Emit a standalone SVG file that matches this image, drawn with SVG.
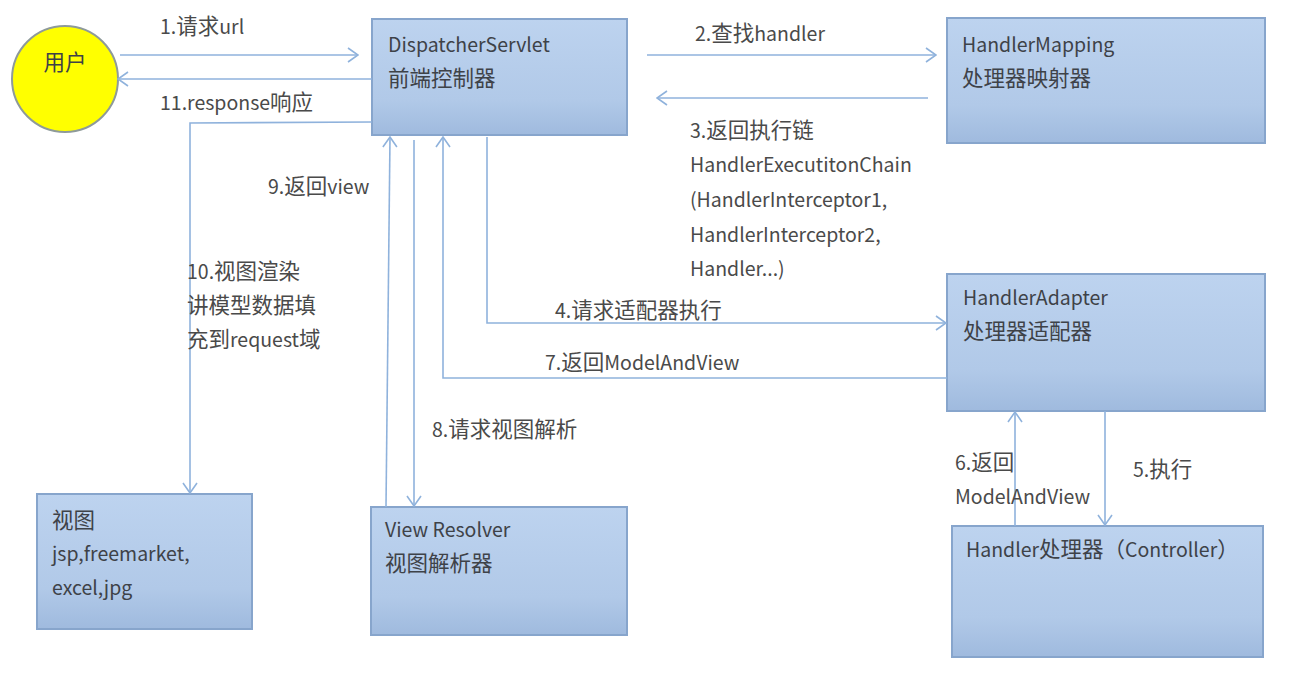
<svg xmlns="http://www.w3.org/2000/svg" width="1295" height="686" viewBox="0 0 1295 686">
<defs>
<linearGradient id="boxg" x1="0" y1="0" x2="0" y2="1">
<stop offset="0" stop-color="#bdd3ef"/>
<stop offset="0.7" stop-color="#b1c9e8"/>
<stop offset="1" stop-color="#9fbade"/>
</linearGradient>
<marker id="arr" viewBox="0 0 12 16" refX="11" refY="8" markerWidth="12" markerHeight="16" markerUnits="userSpaceOnUse" orient="auto">
<path d="M1,1 L11,8 L1,15" fill="none" stroke="#8fb2dc" stroke-width="1.6"/>
</marker>
<style>
.box{fill:url(#boxg);stroke:#87a5cc;stroke-width:2}
.t{font-family:"Noto Sans CJK SC","Noto Sans",sans-serif;font-size:19.5px;fill:#3e4248}
.l{font-family:"Noto Sans CJK SC","Noto Sans",sans-serif;font-size:19.5px;fill:#4a4a4a}
.k{font-size:21.5px}
.c{fill:none;stroke:#8fb2dc;stroke-width:1.6}
.a{marker-end:url(#arr)}
</style>
</defs>
<rect width="1295" height="686" fill="#ffffff"/>

<g id="user">
<circle cx="65" cy="79" r="53" fill="#ffff00" stroke="#8e9a9a" stroke-width="2"/>
<text class="t" x="65" y="70" text-anchor="middle"><tspan class="k">用户</tspan></text>
</g>

<g id="dispatcher">
<rect class="box" x="372" y="19" width="255" height="116"/>
<text class="t" x="388" y="52">DispatcherServlet</text>
<text class="t" x="388" y="86"><tspan class="k">前端控制器</tspan></text>
</g>

<g id="handlerMapping">
<rect class="box" x="947" y="18" width="318" height="125"/>
<text class="t" x="962" y="52">HandlerMapping</text>
<text class="t" x="962" y="86"><tspan class="k">处理器映射器</tspan></text>
</g>

<g id="handlerAdapter">
<rect class="box" x="947" y="274" width="318" height="137"/>
<text class="t" x="963" y="305">HandlerAdapter</text>
<text class="t" x="963" y="339"><tspan class="k">处理器适配器</tspan></text>
</g>

<g id="handler">
<rect class="box" x="952" y="526" width="311" height="131"/>
<text class="t" x="966" y="557">Handler<tspan class="k">处理器（</tspan>Controller<tspan class="k">）</tspan></text>
</g>

<g id="viewResolver">
<rect class="box" x="371" y="507" width="256" height="128"/>
<text class="t" x="385" y="537">View Resolver</text>
<text class="t" x="385" y="571"><tspan class="k">视图解析器</tspan></text>
</g>

<g id="view">
<rect class="box" x="37" y="494" width="215" height="135"/>
<text class="t" x="52" y="528"><tspan class="k">视图</tspan></text>
<text class="t" x="52" y="561">jsp,freemarket,</text>
<text class="t" x="52" y="595">excel,jpg</text>
</g>

<g id="connectors">
<line class="c a" x1="120" y1="55" x2="358" y2="55"/>
<line class="c a" x1="372" y1="79" x2="118" y2="79"/>
<polyline class="c a" points="372,122 190,123 190,493"/>
<line class="c a" x1="647" y1="55" x2="936" y2="55"/>
<line class="c a" x1="928" y1="98" x2="657" y2="98"/>
<polyline class="c a" points="487,137 487,323 946,323"/>
<polyline class="c a" points="947,378 443,378 443,137"/>
<line class="c a" x1="414" y1="140" x2="414" y2="506"/>
<line class="c a" x1="386" y1="507" x2="390" y2="137"/>
<line class="c a" x1="1105" y1="411" x2="1105" y2="525"/>
<line class="c a" x1="1015" y1="526" x2="1015" y2="412"/>
</g>

<g id="labels">
<text class="l" x="160" y="34">1.<tspan class="k">请求</tspan>url</text>
<text class="l" x="160" y="110">11.response<tspan class="k">响应</tspan></text>
<text class="l" x="695" y="41">2.<tspan class="k">查找</tspan>handler</text>
<text class="l" x="690" y="138">3.<tspan class="k">返回执行链</tspan></text>
<text class="l" x="690" y="172">HandlerExecutitonChain</text>
<text class="l" x="690" y="207">(HandlerInterceptor1,</text>
<text class="l" x="690" y="242">HandlerInterceptor2,</text>
<text class="l" x="690" y="276">Handler...)</text>
<text class="l" x="555" y="318">4.<tspan class="k">请求适配器执行</tspan></text>
<text class="l" x="545" y="370">7.<tspan class="k">返回</tspan>ModelAndView</text>
<text class="l" x="432" y="437">8.<tspan class="k">请求视图解析</tspan></text>
<text class="l" x="268" y="194">9.<tspan class="k">返回</tspan>view</text>
<text class="l" x="187" y="279">10.<tspan class="k">视图渲染</tspan></text>
<text class="l" x="187" y="313"><tspan class="k">讲模型数据填</tspan></text>
<text class="l" x="187" y="347"><tspan class="k">充到</tspan>request<tspan class="k">域</tspan></text>
<text class="l" x="955" y="470">6.<tspan class="k">返回</tspan></text>
<text class="l" x="955" y="504">ModelAndView</text>
<text class="l" x="1133" y="477">5.<tspan class="k">执行</tspan></text>
</g>
</svg>
